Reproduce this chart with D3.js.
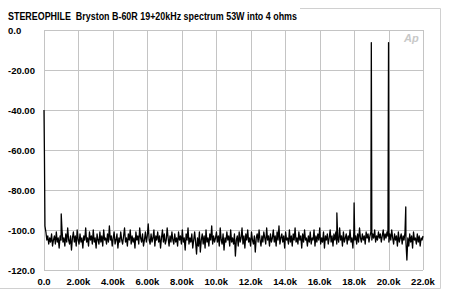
<!DOCTYPE html>
<html><head><meta charset="utf-8">
<script src="https://cdn.jsdelivr.net/npm/d3@7"></script>
<style>body{margin:0;background:#fff}svg{display:block}text{font-family:"Liberation Sans",Arial,sans-serif;font-weight:bold;fill:#000}</style>
</head><body><svg id="c" width="450" height="294"></svg>
<script>
const title = "STEREOPHILE  Bryston B-60R 19+20kHz spectrum 53W into 4 ohms";
const xTicks = [0,2000,4000,6000,8000,10000,12000,14000,16000,18000,20000,22000];
const xTickLabels = ["0.0","2.00k","4.00k","6.00k","8.00k","10.0k","12.0k","14.0k","16.0k","18.0k","20.0k","22.0k"];
const yTicks = [0,-20,-40,-60,-80,-100,-120];
const yTickLabels = ["0.0","-20.00","-40.00","-60.00","-80.00","-100.0","-120.0"];
// FFT bin spacing (Hz) for the noise floor values
const binHz = 55;
const noiseDb = [
-98,-101,-105,-103,-107,-104,-106,-102,-108,-105,-103,-107,-101,-106,-104,-109,-103,-105,-100,-106,
-104,-108,-102,-106,-99,-105,-107,-103,-110,-104,-101,-106,-103,-108,-100,-105,-107,-102,-106,-104,
-109,-103,-105,-99,-106,-104,-108,-101,-105,-103,-107,-100,-106,-104,-109,-102,-105,-107,-101,-106,
-103,-108,-100,-105,-104,-107,-102,-106,-98,-105,-103,-108,-104,-101,-107,-105,-102,-109,-104,-106,
-101,-105,-107,-103,-99,-106,-104,-108,-102,-105,-100,-107,-103,-106,-104,-109,-101,-105,-103,-107,
-99,-104,-106,-102,-108,-105,-101,-106,-103,-97,-105,-107,-102,-106,-104,-100,-108,-103,-105,-101,
-106,-103,-109,-104,-100,-106,-102,-107,-105,-99,-104,-108,-103,-106,-101,-105,-107,-102,-106,-104,
-108,-101,-105,-103,-107,-100,-106,-104,-110,-102,-105,-99,-107,-104,-106,-102,-109,-105,-101,-106,
-112,-104,-108,-101,-111,-105,-102,-107,-103,-109,-100,-106,-104,-108,-102,-105,-98,-107,-103,-106,
-104,-101,-106,-103,-108,-99,-105,-107,-102,-110,-104,-106,-101,-105,-103,-108,-100,-106,-104,-107,
-102,-113,-105,-103,-108,-101,-106,-104,-99,-107,-103,-109,-102,-105,-100,-106,-104,-108,-101,-105,
-107,-103,-111,-104,-102,-106,-100,-105,-108,-103,-106,-101,-104,-107,-99,-105,-103,-108,-102,-106,
-104,-100,-106,-103,-108,-101,-105,-98,-107,-104,-102,-106,-103,-109,-101,-105,-104,-107,-100,-106,
-103,-108,-102,-105,-99,-106,-104,-107,-101,-105,-103,-109,-102,-106,-100,-105,-104,-108,-103,-106,
-101,-107,-104,-105,-100,-108,-103,-106,-102,-105,-99,-107,-104,-106,-101,-109,-103,-105,-102,-107,
-104,-100,-106,-103,-108,-102,-105,-101,-107,-104,-106,-99,-105,-103,-108,-101,-106,-104,-102,-107,
-103,-105,-100,-106,-104,-109,-101,-105,-103,-107,-102,-106,-99,-104,-106,-102,-105,-103,-107,-101,
-104,-102,-106,-103,-101,-105,-102,-104,-100,-106,-103,-105,-101,-104,-102,-106,-103,-100,-105,-102,
-104,-101,-103,-106,-102,-105,-100,-104,-107,-102,-105,-103,-108,-101,-106,-104,-102,-107,-103,-105,
-101,-106,-115,-104,-108,-102,-106,-103,-109,-101,-105,-104,-107,-102,-106,-103,-108,-104,-105,-103
];
// DC skirt and discrete spectral lines [Hz, dB]
const dcPoints = [[0,-40],[25,-62],[45,-86]];
const spurs = [[1000,-92],[17000,-91.5],[18000,-86.5],[19000,-6.3],[20000,-6.3],[21000,-88.5]];

const svg = d3.select("#c");
const x = d3.scaleLinear().domain([0,22000]).range([44,423]);
const y = d3.scaleLinear().domain([0,-120]).range([30,270]);

// outer frame (partial, light)
const fr = svg.append("g").attr("stroke","#d0d0d0").attr("fill","none");
fr.append("line").attr("x1",300).attr("x2",440.5).attr("y1",8.5).attr("y2",8.5);
fr.append("line").attr("x1",440.5).attr("x2",440.5).attr("y1",8.5).attr("y2",288.5);
fr.append("line").attr("x1",0).attr("x2",440.5).attr("y1",288.5).attr("y2",288.5);

svg.append("text").attr("x",8).attr("y",20).attr("font-size",10.5)
  .attr("xml:space","preserve").style("white-space","pre")
  .attr("textLength",289).attr("lengthAdjust","spacingAndGlyphs").text(title);

// grid
const g = svg.append("g");
g.selectAll(".vx").data(xTicks).join("line")
  .attr("x1",d=>Math.round(x(d))+0.5).attr("x2",d=>Math.round(x(d))+0.5)
  .attr("y1",y(0)).attr("y2",y(-120)).attr("stroke","#c4c4c4");
g.selectAll(".hy").data(yTicks).join("line")
  .attr("y1",d=>Math.round(y(d))+0.5).attr("y2",d=>Math.round(y(d))+0.5)
  .attr("x1",x(0)).attr("x2",x(22000)).attr("stroke","#c4c4c4");

// tick labels
svg.selectAll(".yl").data(yTicks).join("text")
  .attr("x",8).attr("y",d=>y(d)+3.5).attr("font-size",9.5)
  .text((d,i)=>yTickLabels[i]);
svg.selectAll(".xl").data(xTicks).join("text")
  .attr("x",d=>x(d)).attr("y",285).attr("font-size",9.5).attr("text-anchor","middle")
  .text((d,i)=>xTickLabels[i]);

// Ap logo
svg.append("text").attr("x",404).attr("y",42).attr("font-size",11)
  .attr("font-style","italic").attr("font-weight","normal").style("fill","#c8c8c8").text("Ap");

// trace
const pts = dcPoints.concat(noiseDb.map((v,i)=>[(i+1)*binHz,v]), spurs)
  .sort((a,b)=>a[0]-b[0]);
const line = d3.line().x(d=>x(d[0])).y(d=>y(d[1]));
svg.append("path").datum(pts).attr("d",line)
  .attr("fill","none").attr("stroke","#000").attr("stroke-width",1.3).attr("stroke-linejoin","round");
</script></body></html>
